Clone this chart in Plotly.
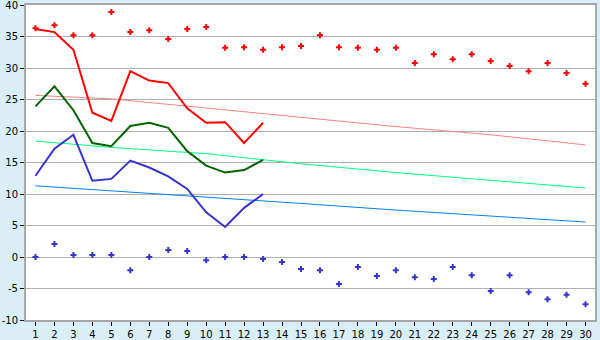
import plotly.graph_objects as go

days = list(range(1, 31))
y_ticks = [-10, -5, 0, 5, 10, 15, 20, 25, 30, 35, 40]
y_tick_labels = ["-10", "-5", "0", "5", "10", "15", "20", "25", "30", "35", "40"]

record_max = [36.3, 36.8, 35.2, 35.2, 38.9, 35.7, 36.0, 34.6, 36.2, 36.5,
              33.2, 33.3, 32.9, 33.3, 33.5, 35.2, 33.3, 33.2, 32.9, 33.2,
              30.8, 32.2, 31.4, 32.2, 31.1, 30.3, 29.5, 30.8, 29.2, 27.5]
record_min = [0.0, 2.06, 0.3, 0.3, 0.3, -2.1, 0.0, 1.1, 0.95, -0.5,
              0.0, 0.0, -0.3, -0.8, -1.9, -2.1, -4.3, -1.6, -3.0, -2.1,
              -3.2, -3.5, -1.6, -2.9, -5.4, -2.9, -5.6, -6.7, -6.0, -7.5]

obs_days = list(range(1, 14))
obs_max = [36.2, 35.7, 32.9, 22.9, 21.6, 29.5, 28.0, 27.6, 23.6, 21.3, 21.4, 18.1, 21.3]
obs_mean = [23.9, 27.1, 23.3, 18.1, 17.6, 20.8, 21.3, 20.5, 16.8, 14.5, 13.4, 13.8, 15.4]
obs_min = [12.9, 17.2, 19.4, 12.1, 12.4, 15.3, 14.2, 12.8, 10.8, 7.1, 4.76, 7.8, 10.0]

norm_days = [1, 5, 10, 15, 20, 25, 30]
norm_max = [25.65, 25.1, 23.65, 22.2, 20.7, 19.4, 17.8]
norm_mean = [18.4, 17.4, 16.4, 14.8, 13.4, 12.2, 10.95]
norm_min = [11.3, 10.5, 9.6, 8.5, 7.45, 6.55, 5.55]

fig = go.Figure()

fig.add_trace(go.Scatter(x=norm_days, y=norm_max, mode="lines",
                         line=dict(color="#FF8080", width=1)))
fig.add_trace(go.Scatter(x=norm_days, y=norm_mean, mode="lines",
                         line=dict(color="#00FF80", width=1)))
fig.add_trace(go.Scatter(x=norm_days, y=norm_min, mode="lines",
                         line=dict(color="#0080FF", width=1)))

fig.add_trace(go.Scatter(x=obs_days, y=obs_max, mode="lines",
                         line=dict(color="#FF0000", width=2)))
fig.add_trace(go.Scatter(x=obs_days, y=obs_mean, mode="lines",
                         line=dict(color="#006400", width=2)))
fig.add_trace(go.Scatter(x=obs_days, y=obs_min, mode="lines",
                         line=dict(color="#3535CC", width=2)))

fig.add_trace(go.Scatter(x=days, y=record_max, mode="markers",
                         marker=dict(symbol="cross", size=5, color="#FF0000")))
fig.add_trace(go.Scatter(x=days, y=record_min, mode="markers",
                         marker=dict(symbol="cross", size=5, color="#3535CC")))

fig.update_layout(
    width=600, height=340,
    margin=dict(l=26, r=5, t=5, b=20),
    paper_bgcolor="#D9EFF5",
    plot_bgcolor="#FFFFFF",
    showlegend=False,
    font=dict(family="DejaVu Sans", size=10, color="#000000"),
)
fig.update_xaxes(
    range=[0.5, 30.5], tickmode="array", tickvals=days, ticktext=[str(d) for d in days],
    showgrid=False, zeroline=False, automargin=False,
    showline=True, linecolor="#A8A8A8", linewidth=2, mirror=True,
    ticks="outside", ticklen=4, tickcolor="#000000",
)
fig.update_yaxes(
    range=[-10, 40], tickmode="array", tickvals=y_ticks, ticktext=y_tick_labels,
    automargin=False,
    showgrid=True, gridcolor="#B0B0B0", gridwidth=1,
    zeroline=False, ticklabeloverflow="allow",
    showline=True, linecolor="#A8A8A8", linewidth=2, mirror=True,
    ticks="outside", ticklen=4, tickcolor="#000000", ticklabelstandoff=0,
)

fig.write_html("out.html", config={"displayModeBar": False},
               post_script="document.body.style.margin='0px';")
